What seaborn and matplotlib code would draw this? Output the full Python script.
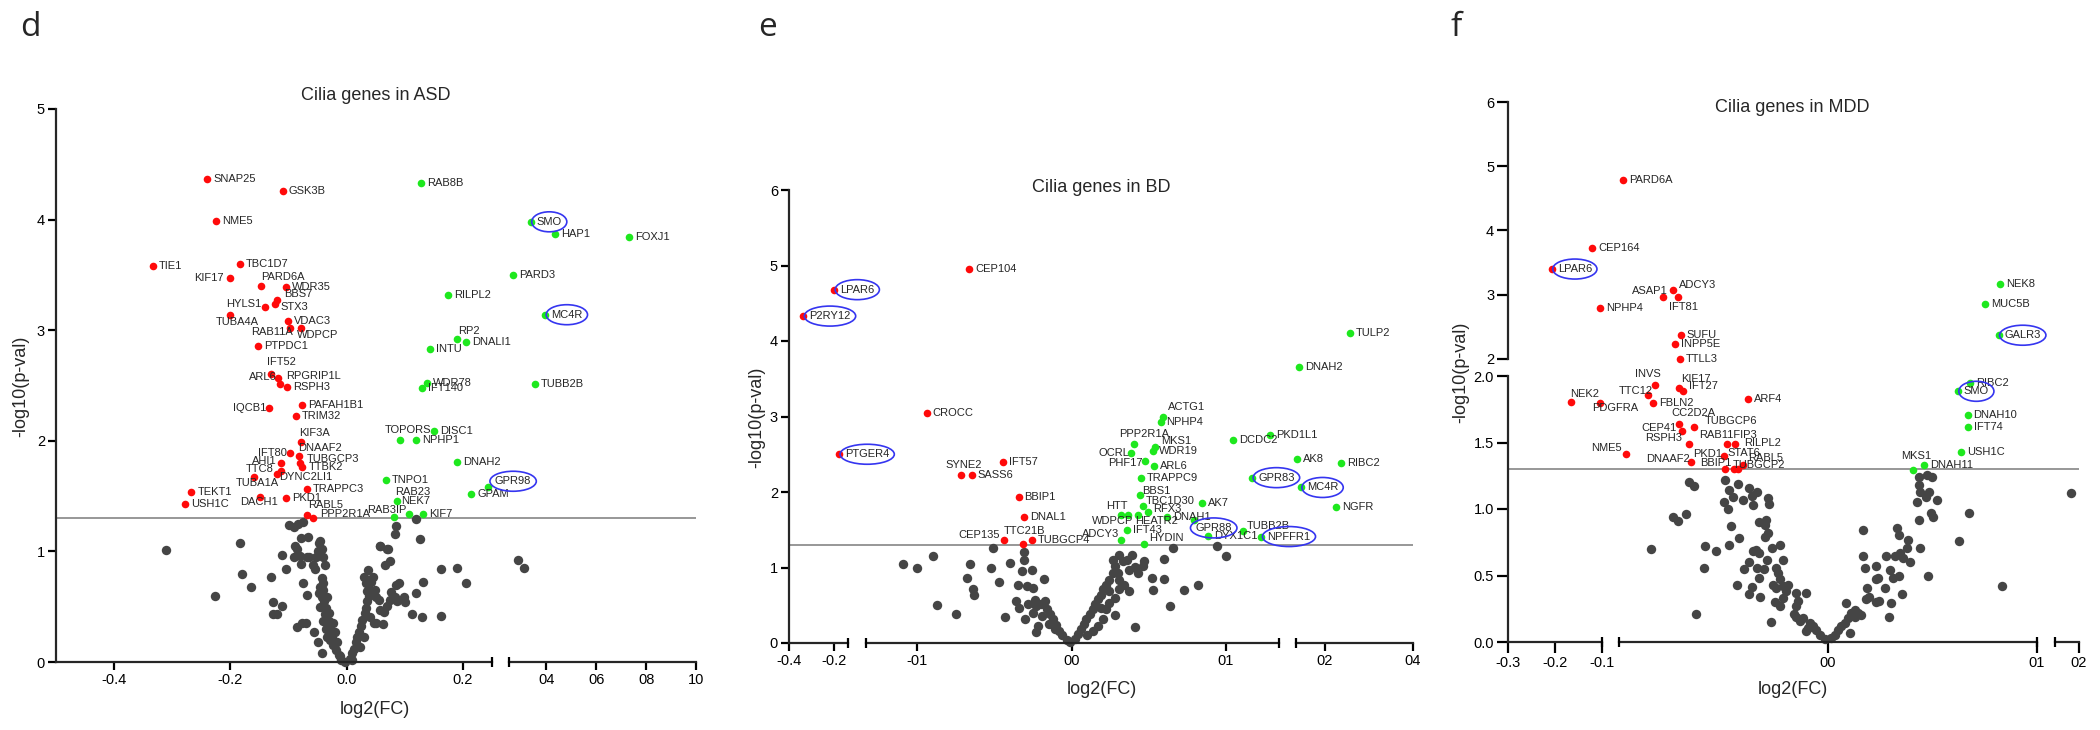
import matplotlib.pyplot as plt
import seaborn as sns
import pandas as pd
from matplotlib.patches import Ellipse
from matplotlib.transforms import IdentityTransform

# ---------------- data: (gene, log2FC, -log10 p) ----------------
# panel d, ASD
d_down = [
    ("SNAP25", -0.240, 4.37), ("GSK3B", -0.110, 4.26), ("NME5", -0.225, 3.99),
    ("TIE1", -0.333, 3.58), ("TBC1D7", -0.184, 3.60), ("KIF17", -0.201, 3.47),
    ("PARD6A", -0.147, 3.40), ("WDR35", -0.104, 3.39), ("BBS7", -0.119, 3.27),
    ("STX3", -0.123, 3.24), ("HYLS1", -0.140, 3.21), ("TUBA4A", -0.200, 3.14),
    ("VDAC3", -0.101, 3.08), ("RAB11A", -0.098, 3.02), ("WDPCP", -0.079, 3.02),
    ("PTPDC1", -0.153, 2.86), ("IFT52", -0.131, 2.60), ("RPGRIP1L", -0.118, 2.57),
    ("ARL6", -0.114, 2.51), ("RSPH3", -0.102, 2.49), ("IQCB1", -0.133, 2.30),
    ("PAFAH1B1", -0.076, 2.32), ("TRIM32", -0.087, 2.22), ("KIF3A", -0.078, 1.99),
    ("IFT80", -0.098, 1.89), ("DNAAF2", -0.082, 1.86), ("TUBGCP3", -0.081, 1.80),
    ("AHI1", -0.113, 1.80), ("TTBK2", -0.076, 1.76), ("TTC8", -0.113, 1.73),
    ("DYNC2LI1", -0.119, 1.70), ("TUBA1A", -0.159, 1.67), ("TRAPPC3", -0.068, 1.56),
    ("TEKT1", -0.267, 1.54), ("USH1C", -0.278, 1.43), ("DACH1", -0.149, 1.49),
    ("PKD1", -0.104, 1.48), ("RABL5", -0.068, 1.33), ("PPP2R1A", -0.058, 1.30),
]
d_up = [
    ("RAB8B", 0.128, 4.33), ("SMO", 0.337, 3.98), ("HAP1", 0.436, 3.87),
    ("FOXJ1", 0.730, 3.84), ("PARD3", 0.268, 3.50), ("RILPL2", 0.174, 3.32),
    ("MC4R", 0.395, 3.14), ("RP2", 0.190, 2.92), ("DNALI1", 0.205, 2.89),
    ("INTU", 0.144, 2.83), ("WDR78", 0.138, 2.52), ("IFT140", 0.129, 2.48),
    ("TUBB2B", 0.355, 2.51), ("TOPORS", 0.091, 2.01), ("DISC1", 0.150, 2.09),
    ("NPHP1", 0.119, 2.01), ("DNAH2", 0.190, 1.81), ("TNPO1", 0.068, 1.65),
    ("GPR98", 0.243, 1.58), ("GPAM", 0.214, 1.52), ("RAB23", 0.087, 1.46),
    ("NEK7", 0.1075, 1.34), ("RAB3IP", 0.081, 1.31), ("KIF7", 0.131, 1.34),
]
d_circled = ["SMO", "MC4R", "GPR98"]
d_gray = [
    (-0.310, 1.01), (-0.227, 0.60), (-0.184, 1.08), (-0.180, 0.80), (-0.164, 0.68),
    (-0.130, 0.77), (-0.126, 0.54), (-0.111, 0.51), (-0.127, 0.43), (-0.119, 0.43),
    (-0.111, 0.97), (-0.104, 0.84), (-0.100, 1.24), (-0.091, 1.22), (-0.083, 1.25),
    (-0.075, 1.27), (-0.078, 1.12), (-0.066, 1.13), (-0.089, 1.05), (-0.086, 1.02),
    (-0.091, 0.95), (-0.081, 0.96), (-0.069, 0.95), (-0.075, 0.71), (-0.069, 0.61),
    (-0.053, 0.95), (-0.047, 1.08), (-0.043, 1.02), (-0.040, 0.95), (-0.055, 0.84),
    (-0.077, 0.35), (-0.070, 0.35), (-0.057, 0.27), (-0.050, 0.18), (-0.043, 0.08),
    (-0.086, 0.32), (-0.043, 0.76), (-0.040, 0.71), (-0.046, 0.68), (-0.040, 0.65),
    (-0.043, 0.59), (-0.039, 0.55), (-0.035, 0.49), (-0.037, 0.43), (-0.031, 0.37),
    (-0.029, 0.29), (-0.026, 0.23), (-0.023, 0.15), (-0.018, 0.11), (-0.014, 0.06),
    (-0.009, 0.02), (-0.003, 0.00), (-0.034, 0.59), (-0.030, 0.44), (-0.046, 0.50),
    (-0.024, 0.35), (-0.020, 0.27), (-0.033, 0.23), (-0.017, 0.18), (-0.040, 0.37),
    (-0.079, 0.89), (-0.065, 0.95), (-0.046, 1.09), (-0.050, 1.00), (-0.058, 0.88),
    (-0.037, 0.88), (-0.012, 0.05), (-0.028, 0.20), (-0.036, 0.30), (-0.048, 0.62),
    (0.005, 0.03), (0.009, 0.08), (0.013, 0.12), (0.016, 0.18), (0.018, 0.23),
    (0.022, 0.27), (0.024, 0.33), (0.027, 0.38), (0.031, 0.44), (0.033, 0.49),
    (0.035, 0.55), (0.038, 0.60), (0.040, 0.65), (0.041, 0.72), (0.045, 0.77),
    (0.035, 0.64), (0.049, 0.65), (0.051, 0.59), (0.055, 0.56), (0.058, 0.47),
    (0.064, 0.45), (0.070, 0.51), (0.075, 0.56), (0.083, 0.59), (0.086, 0.55),
    (0.085, 0.70), (0.090, 0.71), (0.077, 0.63), (0.098, 0.59), (0.101, 0.54),
    (0.057, 1.05), (0.071, 1.02), (0.066, 0.88), (0.074, 0.91), (0.085, 1.23),
    (0.083, 1.16), (0.120, 1.29), (0.126, 1.11), (0.131, 0.72), (0.120, 0.62),
    (0.112, 0.43), (0.130, 0.41), (0.163, 0.84), (0.190, 0.85), (0.206, 0.71),
    (0.162, 0.42), (0.051, 0.35), (0.063, 0.34), (0.034, 0.71), (0.029, 0.77),
    (0.040, 0.41), (0.047, 0.35), (0.030, 0.23), (0.023, 0.14), (0.010, 0.02),
    (0.037, 0.83), (0.058, 1.05), (0.069, 1.02), (0.285, 0.92), (0.310, 0.85),
]

# panel e, BD
e_down = [
    ("CEP104", -0.0666, 4.96), ("LPAR6", -0.198, 4.68), ("P2RY12", -0.336, 4.33),
    ("CROCC", -0.094, 3.04), ("PTGER4", -0.176, 2.50), ("IFT57", -0.0443, 2.40),
    ("SYNE2", -0.072, 2.23), ("SASS6", -0.0648, 2.22), ("BBIP1", -0.0344, 1.94),
    ("DNAL1", -0.031, 1.67), ("CEP135", -0.044, 1.36), ("TTC21B", -0.0316, 1.31),
    ("TUBGCP4", -0.026, 1.36),
]
e_up = [
    ("TULP2", 0.257, 4.11), ("DNAH2", 0.142, 3.66), ("ACTG1", 0.059, 3.00),
    ("NPHP4", 0.0576, 2.93), ("PPP2R1A", 0.0405, 2.63), ("MKS1", 0.054, 2.60),
    ("WDR19", 0.053, 2.54), ("OCRL", 0.0385, 2.51), ("PHF17", 0.0475, 2.41),
    ("ARL6", 0.0535, 2.34), ("TRAPPC9", 0.045, 2.18), ("BBS1", 0.0446, 1.96),
    ("TBC1D30", 0.046, 1.81), ("RFX3", 0.0498, 1.74), ("HTT", 0.032, 1.69),
    ("WDPCP", 0.0368, 1.69), ("HEATR2", 0.0428, 1.69), ("DNAH1", 0.062, 1.67),
    ("GPR88", 0.0796, 1.63), ("DYX1C1", 0.0886, 1.42), ("ADCY3", 0.0318, 1.36),
    ("IFT43", 0.036, 1.50), ("HYDIN", 0.0466, 1.31), ("AK7", 0.0848, 1.85),
    ("TUBB2B", 0.111, 1.48), ("NPFFR1", 0.123, 1.41), ("DCDC2", 0.1045, 2.69),
    ("PKD1L1", 0.1285, 2.75), ("AK8", 0.137, 2.44), ("RIBC2", 0.238, 2.39),
    ("GPR83", 0.117, 2.19), ("MC4R", 0.146, 2.06), ("NGFR", 0.226, 1.80),
]
e_circled = ["LPAR6", "P2RY12", "PTGER4", "GPR83", "MC4R", "GPR88", "NPFFR1"]
e_gray = [
    (-0.109, 1.05), (-0.100, 1.00), (-0.090, 1.15), (-0.087, 0.50), (-0.075, 0.38),
    (-0.068, 0.86), (-0.066, 1.05), (-0.064, 0.72), (-0.063, 0.64), (-0.052, 0.99),
    (-0.051, 1.26), (-0.047, 0.81), (-0.043, 0.35), (-0.040, 1.06), (-0.035, 0.77),
    (-0.036, 0.56), (-0.032, 0.95), (-0.031, 1.21), (-0.031, 1.10), (-0.030, 0.32),
    (-0.029, 0.75), (-0.026, 0.97), (-0.025, 0.73), (-0.018, 0.85), (-0.024, 0.57),
    (-0.023, 0.49), (-0.025, 0.40), (-0.020, 0.51), (-0.017, 0.56), (-0.016, 0.45),
    (-0.014, 0.38), (-0.012, 0.32), (-0.010, 0.24), (-0.008, 0.16), (-0.006, 0.10),
    (-0.003, 0.04), (-0.001, 0.01), (-0.034, 0.47), (-0.028, 0.51), (-0.019, 0.36),
    (-0.015, 0.25), (-0.011, 0.18), (-0.022, 0.23), (-0.023, 0.14),
    (0.002, 0.05), (0.004, 0.12), (0.006, 0.18), (0.008, 0.25), (0.009, 0.32),
    (0.012, 0.38), (0.014, 0.45), (0.015, 0.51), (0.017, 0.58), (0.019, 0.64),
    (0.020, 0.71), (0.022, 0.77), (0.024, 0.84), (0.027, 0.93), (0.028, 1.02),
    (0.027, 1.10), (0.031, 1.17), (0.033, 1.08), (0.036, 1.10), (0.037, 0.97),
    (0.039, 1.16), (0.041, 1.01), (0.043, 0.93), (0.046, 1.02), (0.047, 1.08),
    (0.030, 0.93), (0.031, 0.84), (0.034, 0.77), (0.031, 0.71), (0.037, 0.69),
    (0.028, 0.60), (0.024, 0.53), (0.022, 0.45), (0.028, 0.37), (0.020, 0.32),
    (0.017, 0.23), (0.014, 0.16), (0.010, 0.10), (0.041, 0.21), (0.052, 0.86),
    (0.053, 0.70), (0.060, 1.11), (0.060, 0.85), (0.064, 0.49), (0.066, 1.26),
    (0.073, 0.70), (0.082, 0.77), (0.094, 1.28), (0.100, 1.15), (0.019, 0.47),
    (0.024, 0.69),
]

# panel f, MDD
f_down = [
    ("PARD6A", -0.0979, 4.78), ("CEP164", -0.121, 3.73), ("LPAR6", -0.207, 3.40),
    ("ADCY3", -0.0741, 3.07), ("ASAP1", -0.0788, 2.96), ("IFT81", -0.0717, 2.96),
    ("NPHP4", -0.104, 2.79), ("SUFU", -0.0704, 2.37), ("INPP5E", -0.0734, 2.23),
    ("TTLL3", -0.0709, 2.00), ("INVS", -0.0827, 1.93), ("KIF17", -0.0713, 1.91),
    ("IFT27", -0.0694, 1.885), ("TTC12", -0.0863, 1.855), ("FBLN2", -0.0835, 1.80),
    ("NEK2", -0.167, 1.805), ("PDGFRA", -0.105, 1.795), ("ARF4", -0.0383, 1.83),
    ("CC2D2A", -0.0711, 1.64), ("TUBGCP6", -0.0642, 1.615), ("CEP41", -0.0698, 1.585),
    ("RSPH3", -0.0664, 1.49), ("RAB11FIP3", -0.0482, 1.485), ("RILPL2", -0.0445, 1.49),
    ("NME5", -0.0966, 1.41), ("PKD1", -0.0499, 1.40), ("DNAAF2", -0.0655, 1.355),
    ("STAT6", -0.045, 1.30), ("RABL5", -0.0407, 1.33), ("BBIP1", -0.0495, 1.30),
    ("TUBGCP2", -0.043, 1.30),
]
f_up = [
    ("NEK8", 0.0822, 3.16), ("MUC5B", 0.0752, 2.85), ("GALR3", 0.0816, 2.37),
    ("RIBC2", 0.0679, 1.95), ("SMO", 0.0621, 1.885), ("DNAH10", 0.0668, 1.71),
    ("IFT74", 0.0672, 1.62), ("USH1C", 0.0638, 1.43), ("DNAH11", 0.046, 1.33),
    ("MKS1", 0.0409, 1.29),
]
f_circled = ["LPAR6", "GALR3", "SMO"]
f_gray = [
    (-0.0846, 0.70), (-0.0664, 1.20), (-0.064, 1.17), (-0.0744, 0.94), (-0.072, 0.91),
    (-0.068, 0.96), (-0.063, 0.21), (-0.0595, 0.56), (-0.0589, 0.72), (-0.0536, 0.685),
    (-0.0491, 1.22), (-0.0475, 1.14), (-0.0496, 1.05), (-0.048, 1.00), (-0.0464, 0.87),
    (-0.0475, 0.73), (-0.0453, 1.09), (-0.0429, 1.19), (-0.0424, 0.78), (-0.0434, 0.43),
    (-0.0408, 1.07), (-0.0379, 1.16), (-0.0363, 1.10), (-0.0357, 1.03), (-0.0341, 1.13),
    (-0.0376, 0.36), (-0.0365, 0.41), (-0.0325, 0.34), (-0.0288, 1.08), (-0.0283, 1.04),
    (-0.0328, 0.90), (-0.0296, 0.92), (-0.0301, 0.88), (-0.0285, 0.82), (-0.030, 0.79),
    (-0.0272, 0.15), (-0.0267, 0.71), (-0.0232, 0.73), (-0.036, 0.685), (-0.0344, 0.69),
    (-0.0328, 0.67), (-0.0376, 0.605), (-0.040, 0.55), (-0.034, 0.56), (-0.0331, 0.48),
    (-0.0293, 0.62), (-0.0304, 0.55), (-0.0248, 0.555), (-0.024, 0.52), (-0.0229, 0.47),
    (-0.0216, 0.62), (-0.0264, 0.43), (-0.0248, 0.405), (-0.0213, 0.42), (-0.0192, 0.43),
    (-0.0216, 0.33), (-0.0253, 0.30), (-0.0229, 0.27), (-0.020, 0.38), (-0.0152, 0.37),
    (-0.0107, 0.37), (-0.0144, 0.31), (-0.0152, 0.27), (-0.0165, 0.21), (-0.0152, 0.19),
    (-0.0136, 0.16), (-0.012, 0.18), (-0.0088, 0.14), (-0.0096, 0.105), (-0.0072, 0.12),
    (-0.0056, 0.09), (-0.004, 0.055), (-0.0016, 0.02), (-0.0104, 0.08),
    (0.0016, 0.03), (0.0032, 0.055), (0.0048, 0.09), (0.0064, 0.12), (0.008, 0.14),
    (0.0096, 0.18), (0.0112, 0.22), (0.0104, 0.07), (0.0088, 0.29), (0.0128, 0.24),
    (0.0144, 0.22), (0.016, 0.205), (0.0128, 0.19), (0.018, 0.32), (0.0197, 0.34),
    (0.0187, 0.405), (0.0232, 0.30), (0.0245, 0.305), (0.0293, 0.19), (0.030, 0.29),
    (0.0272, 0.405), (0.0232, 0.47), (0.024, 0.48), (0.0232, 0.57), (0.0179, 0.56),
    (0.0168, 0.65), (0.0168, 0.84), (0.0277, 0.65), (0.0296, 0.54), (0.0309, 0.48),
    (0.032, 0.65), (0.0341, 0.50), (0.0344, 0.67), (0.0352, 0.36), (0.036, 0.63),
    (0.0376, 0.71), (0.0384, 0.77), (0.0392, 0.60), (0.0331, 0.855), (0.0338, 0.805),
    (0.0437, 1.24), (0.0472, 1.255), (0.0496, 1.24), (0.0437, 1.18), (0.044, 1.13),
    (0.0424, 1.055), (0.0469, 1.09), (0.0485, 1.13), (0.052, 1.07), (0.0493, 0.97),
    (0.050, 0.94), (0.0437, 0.92), (0.044, 0.705), (0.048, 0.50), (0.0629, 0.76),
    (0.0677, 0.97), (0.0832, 0.42), (0.165, 1.12),
]

threshold = 1.3

# tick values and labels (as printed in the figure)
d_xticks = [([-0.4, -0.2, 0.0, 0.2], ["-0.4", "-0.2", "0.0", "0.2"]),
            ([0.4, 0.6, 0.8, 1.0], ["04", "06", "08", "10"])]
d_yticks = [([0, 1, 2, 3, 4, 5], ["0", "1", "2", "3", "4", "5"])]
e_xticks = [([-0.4, -0.2], ["-0.4", "-0.2"]),
            ([-0.1, 0.0, 0.1], ["-01", "00", "01"]),
            ([0.2, 0.4], ["02", "04"])]
e_yticks = [([0, 1, 2, 3, 4, 5, 6], ["0", "1", "2", "3", "4", "5", "6"])]
f_xticks = [([-0.3, -0.2, -0.1], ["-0.3", "-0.2", "-0.1"]),
            ([0.0, 0.1], ["00", "01"]),
            ([0.2], ["02"])]
f_yticks = [([2, 3, 4, 5, 6], ["2", "3", "4", "5", "6"]),
            ([0, 0.5, 1.0, 1.5, 2.0], ["0.0", "0.5", "1.0", "1.5", "2.0"])]

# ---------------- label placement (pixels from the dot) ----------------
d_offsets = {
    "KIF17": (-6, 0, "right"), "PARD6A": (22, 9, "center"), "BBS7": (7, 6, "left"),
    "HYLS1": (-4, 3, "right"), "STX3": (5, -3, "left"), "TUBA4A": (7, -7, "center"),
    "RAB11A": (3, -4, "right"), "WDPCP": (-4, -7, "left"), "IFT52": (11, 12, "center"),
    "ARL6": (-4, 7, "right"), "RPGRIP1L": (8, 2, "left"), "IQCB1": (-3, 0, "right"),
    "KIF3A": (13, 9, "center"), "IFT80": (-3, 0, "right"), "DNAAF2": (-1, 8, "left"),
    "TUBGCP3": (7, 4, "left"), "AHI1": (-4, 2, "right"), "TTC8": (-7, 2, "right"),
    "DYNC2LI1": (2, -3, "left"), "TUBA1A": (3, -6, "center"), "DACH1": (-1, -5, "center"),
    "RABL5": (18, 10, "center"), "PPP2R1A": (7, 4, "left"), "RP2": (12, 8, "center"),
    "TOPORS": (8, 10, "center"), "GPR98": (7, 6, "left"), "RAB23": (16, 9, "center"),
    "NEK7": (-8, 13, "left"), "RAB3IP": (13, 7, "right"),
}
e_offsets = {
    "SYNE2": (3, 10, "center"), "CEP135": (-4, 5, "right"), "TTC21B": (2, 13, "center"),
    "ACTG1": (24, 10, "center"), "PPP2R1A": (10, 10, "center"), "MKS1": (6, 6, "left"),
    "OCRL": (-2, 0, "right"), "PHF17": (-2, -2, "right"), "BBS1": (2, 4, "left"),
    "TBC1D30": (3, 5, "left"), "RFX3": (5, 3, "left"), "HTT": (-4, 9, "center"),
    "WDPCP": (-16, -6, "center"), "HEATR2": (-3, -6, "left"), "GPR88": (1, -8, "left"),
    "ADCY3": (-1, 6, "right"), "HYDIN": (6, 6, "left"), "TUBB2B": (4, 5, "left"),
}
f_offsets = {
    "ADCY3": (6, 5, "left"), "ASAP1": (4, 6, "right"), "IFT81": (5, -10, "center"),
    "INVS": (-7, 11, "center"), "KIF17": (2, 9, "left"), "IFT27": (6, 5, "left"),
    "TTC12": (5, 4, "right"), "NEK2": (14, 8, "center"), "PDGFRA": (16, -5, "center"),
    "CC2D2A": (14, 11, "center"), "TUBGCP6": (11, 6, "left"), "CEP41": (-5, 3, "right"),
    "RSPH3": (-7, 6, "right"), "RAB11FIP3": (1, 9, "center"), "RILPL2": (9, 1, "left"),
    "NME5": (-4, 6, "right"), "PKD1": (-2, 2, "right"), "STAT6": (10, 16, "center"),
    "RABL5": (5, 7, "left"), "TUBGCP2": (-5, 4, "left"), "BBIP1": (7, 6, "right"),
    "DNAAF2": (-1, 3, "right"), "MKS1": (3, 14, "center"),
}

RED = "#FF0A0A"
GREEN = "#1EE81E"
GRAY = "#454545"
BLUE = "#3535F0"
LINE = "#7A7A7A"

sns.set_style("ticks")
NARROW = ["Liberation Sans Narrow", "Liberation Sans", "DejaVu Sans"]
plt.rcParams["font.family"] = NARROW

W, H = 2100, 730
fig = plt.figure(figsize=(W / 100, H / 100), dpi=100)


def box(x0, x1, ytop, ybot):
    return [x0 / W, 1 - ybot / H, (x1 - x0) / W, (ybot - ytop) / H]


def ftext(x, y, s, **kw):
    fig.text(x / W, 1 - y / H, s, **kw)


circled_texts = []


def draw_panel(xsegs, ysegs, xticks, yticks, gray, down, up, offsets, circled, tick_len):
    gdf = pd.DataFrame(gray, columns=["x", "y"])
    ddf = pd.DataFrame(down, columns=["gene", "x", "y"])
    udf = pd.DataFrame(up, columns=["gene", "x", "y"])

    low = ysegs[-1]
    base = fig.add_axes(box(xsegs[0][1][0], xsegs[-1][1][1], low[1][0], low[1][1]))
    base.set_ylim(low[0])
    base.axis("off")
    base.axhline(threshold, color=LINE, lw=1.1)

    nx, ny = len(xsegs), len(ysegs)
    for j, (ylim, ypx) in enumerate(ysegs):
        for i, (xlim, xpx) in enumerate(xsegs):
            ax = fig.add_axes(box(xpx[0], xpx[1], ypx[0], ypx[1]))
            ax.patch.set_alpha(0)

            def pick(df):
                inx = (df["x"] >= xlim[0]) & (df["x"] <= xlim[1])
                if j == 0:
                    iny = (df["y"] >= ylim[0]) & (df["y"] <= ylim[1])
                else:
                    iny = (df["y"] >= ylim[0]) & (df["y"] < ylim[1])
                return df[inx & iny]

            g = pick(gdf)
            if len(g):
                sns.scatterplot(data=g, x="x", y="y", ax=ax, color=GRAY, s=46,
                                linewidth=0, clip_on=False, zorder=2, legend=False)
            for df, col in ((ddf, RED), (udf, GREEN)):
                sub = pick(df)
                if not len(sub):
                    continue
                sns.scatterplot(data=sub, x="x", y="y", ax=ax, color=col, s=30,
                                linewidth=0, clip_on=False, zorder=3, legend=False)
                for gene, x, y in zip(sub["gene"], sub["x"], sub["y"]):
                    dx, dy, ha = offsets.get(gene, (6, 0, "left"))
                    t = ax.annotate(gene, (x, y), xytext=(dx, dy),
                                    textcoords="offset pixels", ha=ha, va="center",
                                    fontsize=8, annotation_clip=False, zorder=4)
                    if gene in circled:
                        circled_texts.append(t)

            ax.set_xlim(xlim)
            ax.set_ylim(ylim)
            ax.set_xlabel("")
            ax.set_ylabel("")
            for s in ("top", "right"):
                ax.spines[s].set_visible(False)
            ax.spines["left"].set_visible(i == 0)
            ax.spines["bottom"].set_visible(j == ny - 1)
            for s in ("left", "bottom"):
                ax.spines[s].set_linewidth(1.6)
            ax.tick_params(direction="out", length=tick_len, width=1.6,
                           labelsize=10.5, pad=2, colors="black")
            if i == 0:
                ax.set_yticks(yticks[j][0], yticks[j][1])
            else:
                ax.set_yticks([])
                ax.tick_params(left=False)
            if j == ny - 1:
                ax.set_xticks(xticks[i][0], xticks[i][1])
                ends = []
                if i > 0:
                    ends.append(xlim[0])
                if i < nx - 1:
                    ends.append(xlim[1])
                for xe in ends:
                    ax.plot([xe], [ylim[0]], marker="|", ms=7, mew=1.6,
                            color="black", clip_on=False, zorder=5)
            else:
                ax.set_xticks([])
                ax.tick_params(bottom=False)


# ---------------- layout ----------------
draw_panel(
    [((-0.5, 0.25), (56, 492)), ((0.25, 1.0), (509, 696))],
    [((0, 5), (109, 662))],
    d_xticks, d_yticks, d_gray, d_down, d_up, d_offsets, d_circled, 6,
)
draw_panel(
    [((-0.4, -0.136), (789, 848)), ((-0.1333, 0.1344), (866, 1279)),
     ((0.135, 0.4), (1296, 1413))],
    [((0, 6), (190, 643))],
    e_xticks, e_yticks, e_gray, e_down, e_up, e_offsets, e_circled, 6,
)
draw_panel(
    [((-0.3, -0.1), (1508, 1602)), ((-0.1, 0.1), (1619, 2037)),
     ((0.1, 0.2), (2055, 2079))],
    [((2, 6), (102, 359)), ((0, 2), (376, 642))],
    f_xticks, f_yticks, f_gray, f_down, f_up, f_offsets, f_circled, 8,
)

for letter, x in (("d", 30), ("e", 768), ("f", 1456)):
    ftext(x, 27, letter, fontsize=24, ha="center", va="center",
          family=["Open Sans", "DejaVu Sans"])

for title, x, y in (("Cilia genes in ASD", 376, 96), ("Cilia genes in BD", 1101, 187),
                    ("Cilia genes in MDD", 1792, 107)):
    ftext(x, y, title, fontsize=13, ha="center", va="center")

for x, y in ((375, 710), (1102, 690), (1793, 690)):
    ftext(x, y, "log2(FC)", fontsize=13, ha="center", va="center")

for x, y in ((21, 386), (757, 417), (1461, 372)):
    ftext(x, y, "-log10(p-val)", fontsize=13, ha="center", va="center", rotation=90)

fig.canvas.draw()
renderer = fig.canvas.get_renderer()
for t in circled_texts:
    bb = t.get_window_extent(renderer)
    ell = Ellipse(((bb.x0 + bb.x1) / 2, (bb.y0 + bb.y1) / 2), bb.width + 10,
                  bb.height + 10, transform=IdentityTransform(), fill=False,
                  ec=BLUE, lw=1.2, zorder=10)
    fig.add_artist(ell)

fig.savefig("out.png", dpi=100)
